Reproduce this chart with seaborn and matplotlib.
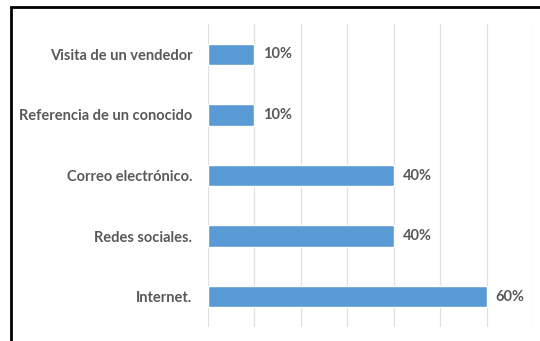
import matplotlib
matplotlib.use("Agg")
import matplotlib.pyplot as plt
import matplotlib.patches as mpatches
import seaborn as sns
import pandas as pd

categorias = ["Visita de un vendedor", "Referencia de un conocido",
              "Correo electrónico.", "Redes sociales.", "Internet."]
porcentajes = [10, 10, 40, 40, 60]

df = pd.DataFrame({"categoria": categorias, "valor": porcentajes})

sns.set_style("white")
plt.rcParams["font.family"] = ["Lato", "DejaVu Sans"]

fig = plt.figure(figsize=(5.40, 3.41), dpi=100)
ax = fig.add_axes([207.7 / 540, 1 - 327 / 341, (533 - 207.7) / 540, (327 - 24) / 341])

sns.barplot(data=df, x="valor", y="categoria", orient="h", color="#5B9BD5",
            saturation=1, width=0.35, ax=ax)

ax.set_xlim(0, 70)
ax.set_ylim(4.5, -0.5)
ax.set_xticks(range(0, 71, 10))
ax.set_xticklabels([])
ax.tick_params(axis="x", length=0)
ax.tick_params(axis="y", length=0, pad=11, labelsize=10.5, labelcolor="#595959")
for lbl in ax.get_yticklabels():
    lbl.set_fontweight("bold")
ax.grid(axis="x", color="#E0E0E0", linewidth=0.9)
ax.set_axisbelow(True)
for s in ax.spines.values():
    s.set_visible(False)
ax.set_xlabel("")
ax.set_ylabel("")

for i, v in enumerate(porcentajes):
    ax.annotate(f"{v}%", xy=(v, i), xytext=(6.5, 0), textcoords="offset points",
                ha="left", va="center", fontsize=10.5, fontweight="bold",
                color="#595959")

# outer frame
fig.patches.append(mpatches.Rectangle((11 / 540, -0.1), 1.2, 1.1 - 6.5 / 341,
                                      transform=fig.transFigure, fill=False,
                                      edgecolor="black", linewidth=2))

fig.savefig("out.png", dpi=100)
